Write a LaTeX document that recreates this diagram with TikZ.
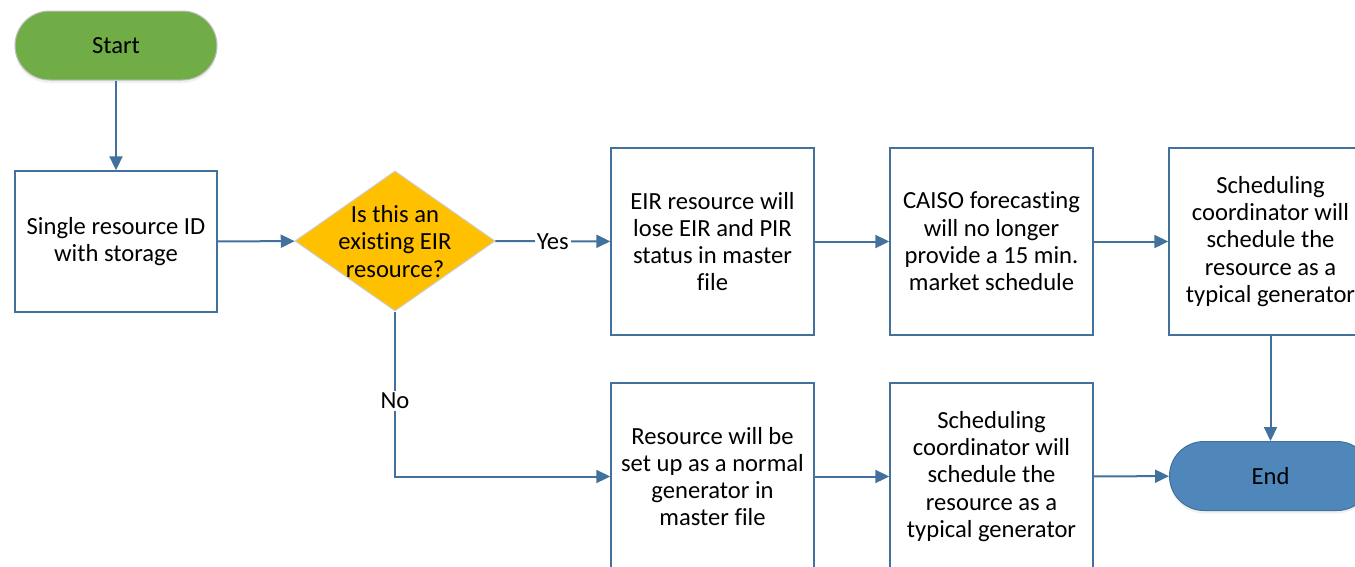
\documentclass[tikz,border=0pt]{standalone}
\usepackage{fontspec}
\setmainfont{Carlito}[Ligatures={NoCommon,NoRare,NoContextual}]
\usetikzlibrary{arrows.meta,shapes.geometric,shadows}
\definecolor{linkblue}{HTML}{41719C}
\definecolor{boxblue}{HTML}{41719C}
\definecolor{startgreen}{HTML}{70AD47}
\definecolor{endblue}{HTML}{4F87BA}
\definecolor{decideyellow}{HTML}{FFC000}
\begin{document}
\begin{tikzpicture}[x=1pt,y=-1pt,
  every node/.style={font=\fontsize{24.6}{27.3}\selectfont, align=center, inner sep=0pt, text=black},
  procbox/.style={draw=boxblue, line width=1.4pt, fill=white, minimum width=203pt, minimum height=187pt},
  inputbox/.style={draw=boxblue, line width=1.4pt, fill=white, minimum width=202pt, minimum height=141pt},
  terminal/.style={rounded corners=34.5pt, minimum width=202pt, minimum height=69pt,
    drop shadow={shadow xshift=0pt, shadow yshift=-3pt, opacity=0.12}},
  decision/.style={diamond, draw=black!20, line width=1pt, fill=decideyellow,
    minimum width=200pt, minimum height=140pt},
  link/.style={draw=linkblue, line width=2pt, -{Triangle[length=14pt,width=13pt]}},
  lbl/.style={fill=white, inner sep=2pt}]
\useasboundingbox (0,0) rectangle (1355,566);

% terminals
\node[terminal, fill=startgreen, draw=black!25, line width=1pt] (start) at (116,45.5) {Start};
\node[terminal, fill=endblue, draw=boxblue, line width=1pt] (endnode) at (1270.5,476) {End};

% first step and decision
\node[inputbox] (single) at (116,241.5) {Single resource ID\\with storage};
\node[decision] (decide) at (395,241) {};
\node (decidetext) at (395,241.5) {Is this an\\existing EIR\\resource?};

% upper branch
\node[procbox] (lose) at (712.5,241.5) {EIR resource will\\lose EIR and PIR\\status in master\\file};
\node[procbox] (caiso) at (991.5,241.5) {CAISO forecasting\\will no longer\\provide a 15 min.\\market schedule};
\node[procbox] (sched1) at (1270.5,241.5) {Scheduling\\coordinator will\\schedule the\\resource as a\\typical generator};

% lower branch
\node[procbox] (setup) at (712.5,476.5) {Resource will be\\set up as a normal\\generator in\\master file};
\node[procbox] (sched2) at (991.5,476.5) {Scheduling\\coordinator will\\schedule the\\resource as a\\typical generator};

% connectors
\draw[link] (start) -- (single);
\draw[link] (single) -- (decide);
\draw[link] (decide) -- node[lbl] {Yes} (lose);
\draw[link] (lose) -- (caiso);
\draw[link] (caiso) -- (sched1);
\draw[link] (sched1) -- (endnode);
\draw[link] (decide.south) |- node[lbl, pos=0.27] {No} (setup);
\draw[link] (setup) -- (sched2);
\draw[link] (sched2) -- (endnode);
\end{tikzpicture}
\end{document}
